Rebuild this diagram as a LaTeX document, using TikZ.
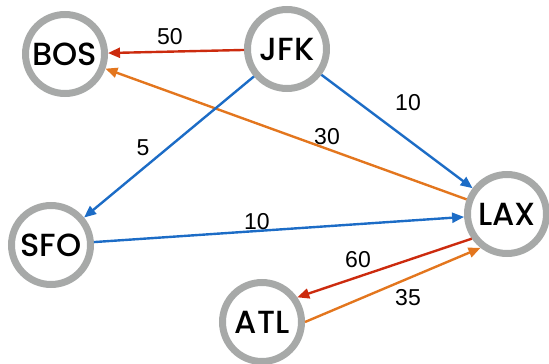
\documentclass[tikz,border=0pt]{standalone}
\usepackage{fontspec}
\newfontfamily\nodefont{Poppins}[UprightFont={* Medium}]
\newfontfamily\labfont{Liberation Sans}
\usetikzlibrary{arrows.meta}
\definecolor{ring}{HTML}{A7A9A8}
\definecolor{cred}{HTML}{CC2B0E}
\definecolor{corange}{HTML}{E3761E}
\definecolor{cblue}{HTML}{1C6CC6}
\tikzset{
  airport/.style={circle, draw=ring, line width=7pt, fill=white, minimum size=79pt, inner sep=0pt, font=\nodefont\fontsize{32}{32}\selectfont},
  flight/.style={line width=2.4pt, -{Triangle[length=12pt,width=10pt]}},
  wlabel/.style={font=\labfont\fontsize{23}{23}\selectfont, inner sep=0pt}
}
\begin{document}
\begin{tikzpicture}[x=1pt,y=-1pt]
\useasboundingbox (0,0) rectangle (549,364);
\node[airport] (bos) at (65,54) {BOS};
\node[airport] (jfk) at (287,49) {JFK};
\node[airport] (sfo) at (51,245) {SFO};
\node[airport] (lax) at (507,214) {LAX};
\node[airport] (atl) at (262,322) {ATL};
\draw[flight, cred] (jfk) -- (bos);
\draw[flight, corange] (lax) -- (bos);
\draw[flight, cblue] (jfk) -- (sfo);
\draw[flight, cblue] (jfk) -- (lax);
\draw[flight, cblue] (sfo) -- (lax);
\draw[flight, cred] (lax.215) -- (atl.35);
\draw[flight, corange] (atl.0) -- (lax.232);
\node[wlabel] (l50) at (170,37) {50};
\node[wlabel] (l10a) at (408,103) {10};
\node[wlabel] (l30) at (327,137) {30};
\node[wlabel] (l5) at (143,148) {5};
\node[wlabel] (l10b) at (257,222) {10};
\node[wlabel] (l60) at (358,260) {60};
\node[wlabel] (l35) at (408,298) {35};
\end{tikzpicture}
\end{document}
